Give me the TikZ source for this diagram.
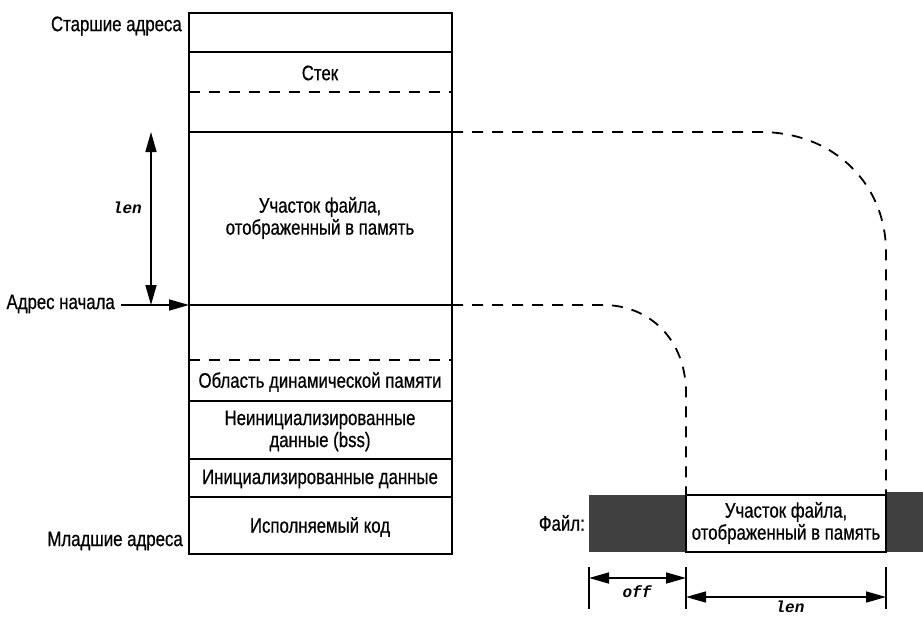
\documentclass[tikz,border=0pt]{standalone}
\usepackage{fontspec}
\setmainfont[FakeStretch=0.8, FakeBold=0.6]{Liberation Sans}
\newfontfamily\codefont{Liberation Mono}
\usetikzlibrary{arrows.meta}
\tikzset{
  lbl/.style={inner sep=0pt, font=\fontsize{21}{22}\selectfont, align=center},
  code/.style={inner sep=0pt, font=\codefont\itshape\bfseries\fontsize{16}{17}\selectfont},
  solidline/.style={line width=1.8pt},
  dashline/.style={line width=1.8pt, dash pattern=on 11pt off 9pt},
  tip/.style={-{Triangle[length=20pt,width=11pt]}, line width=1.6pt},
  dtip/.style={{Triangle[length=20pt,width=11pt]}-{Triangle[length=20pt,width=11pt]}, line width=1.6pt},
}
\begin{document}
\begin{tikzpicture}[x=1pt,y=-1pt]
\useasboundingbox (0,0) rectangle (923,616);
% memory box corners
\coordinate (tl) at (189,13);
\coordinate (br) at (452,554);
\draw[solidline] (tl) rectangle (br);
\foreach \yy/\nm in {52/a,132/b,305/c,401/d,459/e,497/f}{
  \coordinate (L\nm) at (189,\yy);
  \coordinate (R\nm) at (452,\yy);
  \draw[solidline] (L\nm) -- (R\nm);
}
\foreach \yy/\nm in {92/g,360/h}{
  \coordinate (L\nm) at (189,\yy);
  \coordinate (R\nm) at (452,\yy);
  \draw[dashline] (L\nm) -- (R\nm);
}
% region texts
\node[lbl] (stack) at (320,73) {Стек};
\node[lbl] (mapped) at (320,218) {Участок файла,\\отображенный в память};
\node[lbl] (heap) at (320,382) {Область динамической памяти};
\node[lbl] (bss) at (320,431) {Неинициализированные\\данные (bss)};
\node[lbl] (data) at (320,479) {Инициализированные данные};
\node[lbl] (text) at (320,527) {Исполняемый код};
% left labels
\node[lbl, anchor=east] (hi) at (182,26) {Старшие адреса};
\node[lbl, anchor=east] (start) at (115,304) {Адрес начала};
\node[lbl, anchor=east] (lo) at (183,541) {Младшие адреса};
\coordinate (startArr) at (121,305);
\draw[tip] (startArr) -- (Lc);
% len arrow on left
\coordinate (lenTop) at (151,132);
\coordinate (lenBot) at (151,305);
\draw[dtip] (lenTop) -- (lenBot);
\node[code, anchor=east] (lenL) at (142,208) {len};
% file
\coordinate (f1) at (589,495);
\coordinate (f2) at (686,552);
\coordinate (f3) at (886,495);
\coordinate (f4) at (923,552);
\fill[black!75] (f1) rectangle (f2);
\fill[black!75] (886,492) rectangle (f4);
\draw[line width=1.4pt] (686,495) rectangle (886,552);
\node[lbl] (fmapped) at (786,523) {Участок файла,\\отображенный в память};
\node[lbl, anchor=east] (file) at (585,523) {Файл:};
% dashed mapping curves
\draw[dashline] (Rb) -- (760,132) .. controls (835,132) and (886,185) .. (886,252) -- (f3);
\draw[dashline] (Rc) -- (603,305) .. controls (650,305) and (686,340) .. (686,393) -- (686,495);
% dimension lines
\foreach \xx/\nm in {589/a,686/b,886/c}{
  \coordinate (t\nm1) at (\xx,567);
  \coordinate (t\nm2) at (\xx,609);
  \draw[line width=1.6pt] (t\nm1) -- (t\nm2);
}
\draw[dtip] (589,578) -- (686,578);
\draw[dtip] (686,597) -- (886,597);
\node[code] (offL) at (637,592) {off};
\node[code] (lenR) at (790,607) {len};
\end{tikzpicture}
\end{document}
